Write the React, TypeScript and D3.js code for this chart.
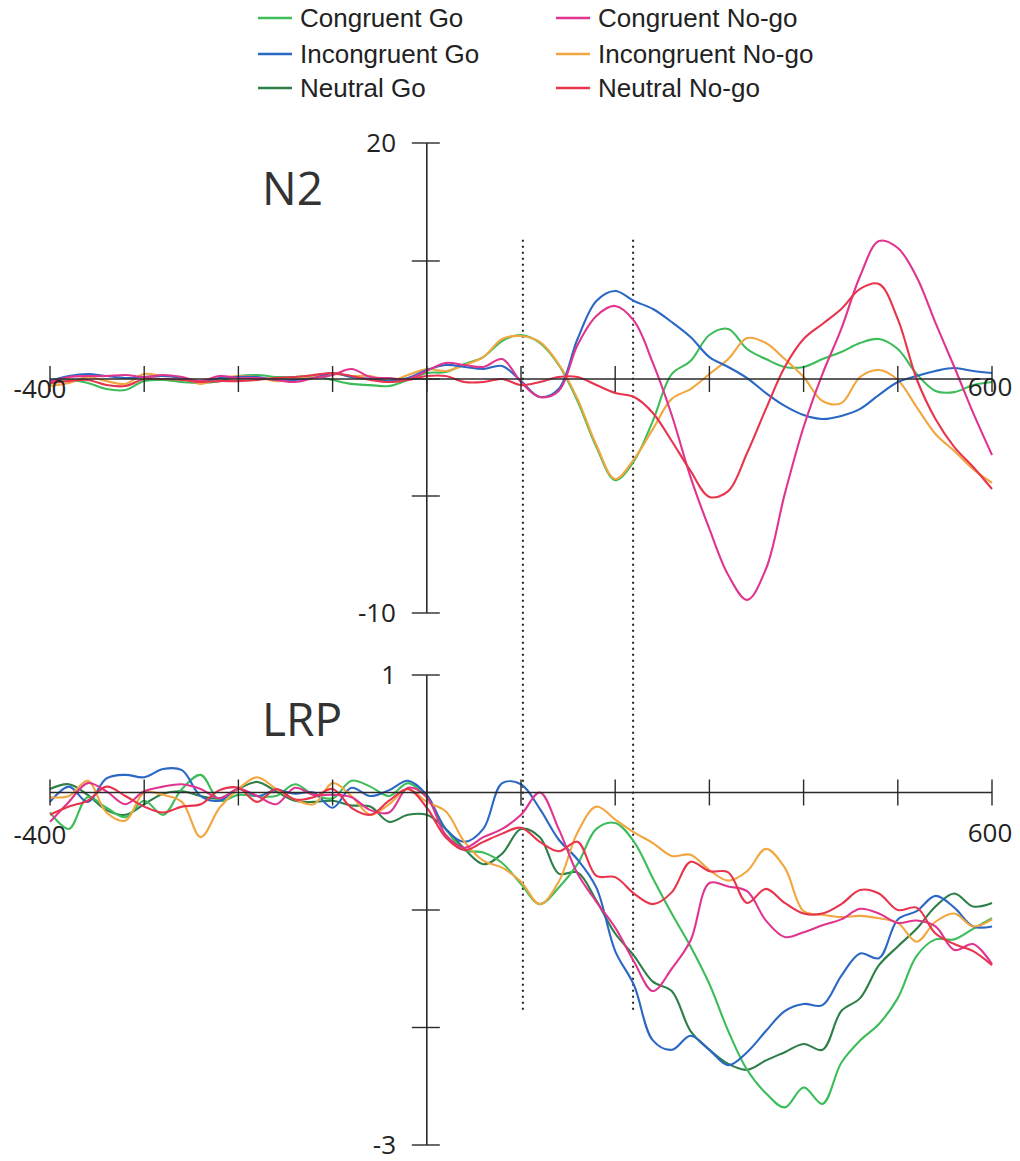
import React from "react";
import * as d3 from "d3";

const W = 1020;
const H = 1161;

const conditions = ["Congruent Go", "Incongruent Go", "Neutral Go", "Congruent No-go", "Incongruent No-go", "Neutral No-go"];
const colors = ["#3dbd5a", "#2a68c4", "#2c7f47", "#e0358f", "#f2a640", "#e8344c"];

// sample times (ms), one value every 20 ms
const times = d3.range(-400, 601, 20);

// N2 amplitudes
const n2CongruentGo = [-0.21, -0.04, -0.17, -0.43, -0.47, -0.09, -0.04, -0.13, -0.17, -0.09, 0.25, 0.34, 0.17, 0.17, 0.25, -0.04, -0.21, -0.26, -0.3, -0.04, 0.51,
  0.59, 1.27, 1.86, 3.22, 3.73, 3.05, 1.19, -0.94, -2.91, -4.32, -3.5, -1.79, 0.42, 1.53, 3.73, 4.24, 2.54, 1.69, 1.02, 1.02, 1.69, 2.29, 3.05, 3.39, 2.54, 0.42, -0.51, -0.56, -0.26, -0.13];
const n2IncongruentGo = [-0.09, 0.25, 0.42, 0.25, 0.08, 0.17, 0.25, 0.08, -0.13, 0.08, 0.17, 0.17, -0.04, -0.04, 0.08, 0.51, 0.17, 0, -0.09, 0.08, 0.76,
  1.19, 1.02, 0.85, 1.1, -0.09, -0.77, -0.43, 3.39, 6.61, 7.46, 6.61, 5.93, 4.83, 3.56, 1.86, 1.02, 0.08, -0.6, -1.15, -1.54, -1.71, -1.58, -1.28, -0.68, -0.13, 0.25, 0.68, 0.93, 0.68, 0.51];
const n2CongruentNogo = [-0.13, 0.17, 0.25, 0.25, 0.34, 0.17, 0.34, 0.17, -0.09, 0.25, 0.08, 0.08, -0.04, -0.13, 0.08, 0.34, 0.85, 0.17, 0.08, 0, 0.68,
  1.36, 1.19, 1.02, 1.69, -0.13, -0.77, -0.51, 2.88, 5.34, 6.19, 4.92, 1.36, -1.54, -4.19, -6.41, -8.38, -9.44, -8.12, -4.91, -2.05, 0.42, 4.24, 8.73, 11.69, 11.1, 8.64, 4.75, 1.02, -1.45, -3.25];
const n2IncongruentNogo = [-0.3, -0.17, 0.17, -0.09, -0.21, 0.42, 0.25, 0.17, -0.21, 0.08, 0.25, 0.17, -0.09, 0, 0.17, 0.42, 0.25, 0.25, -0.09, 0.34, 0.85,
  0.68, 1.19, 1.86, 3.39, 3.64, 3.14, 1.27, -0.85, -2.82, -4.27, -3.42, -2.14, -0.85, -0.43, 0.42, 1.69, 3.47, 3.05, 1.69, 0.17, -0.94, -1.03, 0.17, 0.76, -0.04, -1.2, -2.35, -3.08, -3.85, -4.44];
const n2NeutralNogo = [-0.17, -0.09, -0.04, -0.26, -0.3, 0, 0, -0.04, -0.13, -0.09, -0.09, -0.04, 0.08, 0.17, 0.34, 0.51, 0.25, -0.04, -0.13, -0.04, 0.25,
  0.25, -0.13, -0.13, 0, -0.26, -0.13, 0.17, 0.17, -0.26, -0.6, -0.77, -1.45, -2.65, -3.93, -5.04, -4.79, -3.16, -1.28, 1.02, 3.39, 4.66, 5.93, 7.63, 8.05, 5.08, 0, -1.71, -2.91, -3.76, -4.7];

// LRP amplitudes
const lrpCongruentGo = [-0.17, -0.31, -0.04, -0.13, -0.21, -0.07, -0.19, 0.03, 0.15, -0.07, -0.02, -0.03, -0.03, 0.07, -0.02, -0.05, 0.1, 0.05, -0.03, 0.08, -0.04,
  -0.31, -0.49, -0.51, -0.6, -0.78, -0.95, -0.81, -0.61, -0.31, -0.26, -0.42, -0.73, -1.03, -1.31, -1.63, -2.03, -2.36, -2.56, -2.68, -2.51, -2.65, -2.3, -2.11, -1.97, -1.75, -1.39, -1.25, -1.25, -1.16, -1.07];
const lrpIncongruentGo = [-0.08, 0.05, -0.08, 0.12, 0.15, 0.13, 0.2, 0.19, -0.03, -0.07, 0.03, -0.03, 0.02, -0.01, 0, -0.13, 0.04, -0.03, 0.02, 0.1, -0.02,
  -0.31, -0.42, -0.31, 0.08, 0.07, -0.14, -0.4, -0.57, -0.81, -1.35, -1.64, -2.11, -2.19, -2.07, -2.19, -2.32, -2.21, -2.03, -1.86, -1.8, -1.81, -1.56, -1.37, -1.41, -1.08, -1.01, -0.88, -0.98, -1.14, -1.14];
const lrpNeutralGo = [0.03, 0.07, -0.02, -0.15, -0.19, -0.1, -0.01, 0.01, -0.03, -0.05, 0.03, 0.09, 0.01, -0.07, -0.08, -0.07, -0.11, -0.12, -0.25, -0.19, -0.19,
  -0.31, -0.48, -0.61, -0.52, -0.31, -0.38, -0.69, -0.68, -0.92, -1.2, -1.39, -1.61, -1.69, -2.03, -2.19, -2.31, -2.36, -2.28, -2.21, -2.14, -2.19, -1.86, -1.75, -1.47, -1.31, -1.16, -0.97, -0.86, -0.97, -0.94];
const lrpCongruentNogo = [-0.25, -0.08, 0.08, 0.01, -0.1, 0.01, 0.05, 0.07, 0.03, -0.05, 0.03, -0.03, -0.1, 0.04, -0.02, -0.02, -0.04, -0.15, -0.17, 0.04, -0.04,
  -0.36, -0.47, -0.38, -0.31, -0.19, 0, -0.31, -0.69, -0.93, -1.15, -1.44, -1.69, -1.5, -1.26, -0.77, -0.8, -0.84, -1.09, -1.23, -1.19, -1.13, -1.08, -0.99, -1.03, -1.11, -1.09, -1.14, -1.34, -1.29, -1.46];
const lrpIncongruentNogo = [-0.04, -0.03, 0.1, -0.17, -0.24, 0, -0.02, -0.08, -0.38, -0.13, 0.03, 0.13, 0.03, -0.06, -0.1, 0.08, -0.03, -0.19, -0.1, 0.03, -0.08,
  -0.16, -0.42, -0.58, -0.64, -0.76, -0.95, -0.76, -0.34, -0.12, -0.23, -0.34, -0.43, -0.54, -0.53, -0.66, -0.75, -0.67, -0.48, -0.64, -1.01, -1.04, -1.06, -1.05, -1.07, -1.11, -1.27, -1.1, -1.03, -1.14, -1.08];
const lrpNeutralNogo = [-0.19, -0.12, -0.07, 0.05, -0.03, -0.12, -0.17, -0.12, -0.1, 0.02, 0.04, -0.08, 0.03, -0.06, -0.04, 0.03, -0.13, -0.19, -0.07, 0.03, -0.13,
  -0.38, -0.49, -0.42, -0.35, -0.3, -0.42, -0.5, -0.42, -0.71, -0.72, -0.86, -0.95, -0.85, -0.59, -0.67, -0.68, -0.94, -0.82, -0.94, -1.03, -1.03, -0.95, -0.83, -0.86, -1, -0.98, -1.2, -1.29, -1.35, -1.47];

const xTicks = d3.range(-400, 601, 100);
const n2YTicks = [20, 10, 0, -5, -10];
const lrpYTicks = [1, 0, -1, -2, -3];
const windowBounds = [102, 219];

const x = d3.scaleLinear().domain([-400, 600]).range([50, 992]);
// the N2 axis is labelled 20 / -10 with the zero line half-way
const yN2 = d3.scaleLinear().domain([-10, 0, 20]).range([613, 379, 143]);
const yLRP = d3.scaleLinear().domain([-3, 1]).range([1145, 675]);

const axisColor = "#2a2a2a";
const numFont = "'Open Sans', 'Noto Sans', sans-serif";

type Series = { idx: number; values: number[] };

function Panel({ y, series, yTicks, title, titleY, xLabelDy }: {
  y: d3.ScaleLinear<number, number>; series: Series[]; yTicks: number[]; title: string; titleY: number; xLabelDy: number;
}) {
  const line = d3.line<number>()
    .x((_, i) => x(times[i]))
    .y((d) => y(d))
    .curve(d3.curveCatmullRom.alpha(0.5));
  const y0 = y(0);
  const x0 = x(0);
  const [yMin, yMax] = d3.extent(yTicks) as [number, number];

  return (
    <g>
      {series.map((s) => (
        <path key={s.idx} d={line(s.values) ?? ""} fill="none" stroke={colors[s.idx]} strokeWidth={2.1} />
      ))}
      {/* x axis */}
      <line x1={x(-400)} x2={x(600)} y1={y0} y2={y0} stroke={axisColor} strokeWidth={1.6} />
      {xTicks.map((t) => (
        <line key={t} x1={x(t)} x2={x(t)} y1={y0 - 13} y2={y0 + 13} stroke={axisColor} strokeWidth={1.4} />
      ))}
      {/* y axis */}
      <line x1={x0} x2={x0} y1={y(yMax)} y2={y(yMin)} stroke={axisColor} strokeWidth={1.6} />
      {yTicks.map((v) => (
        <line key={v} x1={x0 - 15} x2={x0 + 13} y1={y(v)} y2={y(v)} stroke={axisColor} strokeWidth={1.4} />
      ))}
      <text x={396} y={y(yMax)} dy="0.35em" textAnchor="end" fontFamily={numFont} fontSize={26} fill="#222">{yMax}</text>
      <text x={396} y={y(yMin)} dy="0.35em" textAnchor="end" fontFamily={numFont} fontSize={26} fill="#222">{yMin}</text>
      <text x={40} y={y0 + xLabelDy} dy="0.35em" textAnchor="middle" fontFamily={numFont} fontSize={26} fill="#222">-400</text>
      <text x={990} y={y0 + xLabelDy - 2} dy="0.35em" textAnchor="middle" fontFamily={numFont} fontSize={26} fill="#222">600</text>
      <text x={262} y={titleY} fontFamily={numFont} fontSize={46} fill="#333">{title}</text>
    </g>
  );
}

export default function App() {
  const n2Series: Series[] = [
    { idx: 0, values: n2CongruentGo },
    { idx: 4, values: n2IncongruentNogo },
    { idx: 1, values: n2IncongruentGo },
    { idx: 3, values: n2CongruentNogo },
    { idx: 5, values: n2NeutralNogo },
  ];
  const lrpSeries: Series[] = [
    { idx: 2, values: lrpNeutralGo },
    { idx: 0, values: lrpCongruentGo },
    { idx: 1, values: lrpIncongruentGo },
    { idx: 4, values: lrpIncongruentNogo },
    { idx: 3, values: lrpCongruentNogo },
    { idx: 5, values: lrpNeutralNogo },
  ];

  const legendCols = [258, 556];
  const legendRows = [18, 54, 88];

  return (
    <svg width={W} height={H} style={{ position: "absolute", left: 0, top: 0, background: "#fff" }}>
      {/* legend */}
      {conditions.map((c, i) => {
        const lx = legendCols[Math.floor(i / 3)];
        const ly = legendRows[i % 3];
        return (
          <g key={c}>
            <line x1={lx} x2={lx + 34} y1={ly} y2={ly} stroke={colors[i]} strokeWidth={2.5} />
            <text x={lx + 42} y={ly} dy="0.36em" fontFamily="'Liberation Sans', Arial, sans-serif" fontSize={26} fill="#222">{c}</text>
          </g>
        );
      })}

      {/* analysis windows */}
      {windowBounds.map((t) => (
        <line key={t} x1={x(t)} x2={x(t)} y1={yN2(11.8)} y2={yLRP(-1.88)} stroke="#222" strokeWidth={2} strokeDasharray="2,4" />
      ))}

      <Panel y={yN2} series={n2Series} yTicks={n2YTicks} title="N2" titleY={205} xLabelDy={10} />
      <Panel y={yLRP} series={lrpSeries} yTicks={lrpYTicks} title="LRP" titleY={736} xLabelDy={42} />
    </svg>
  );
}
